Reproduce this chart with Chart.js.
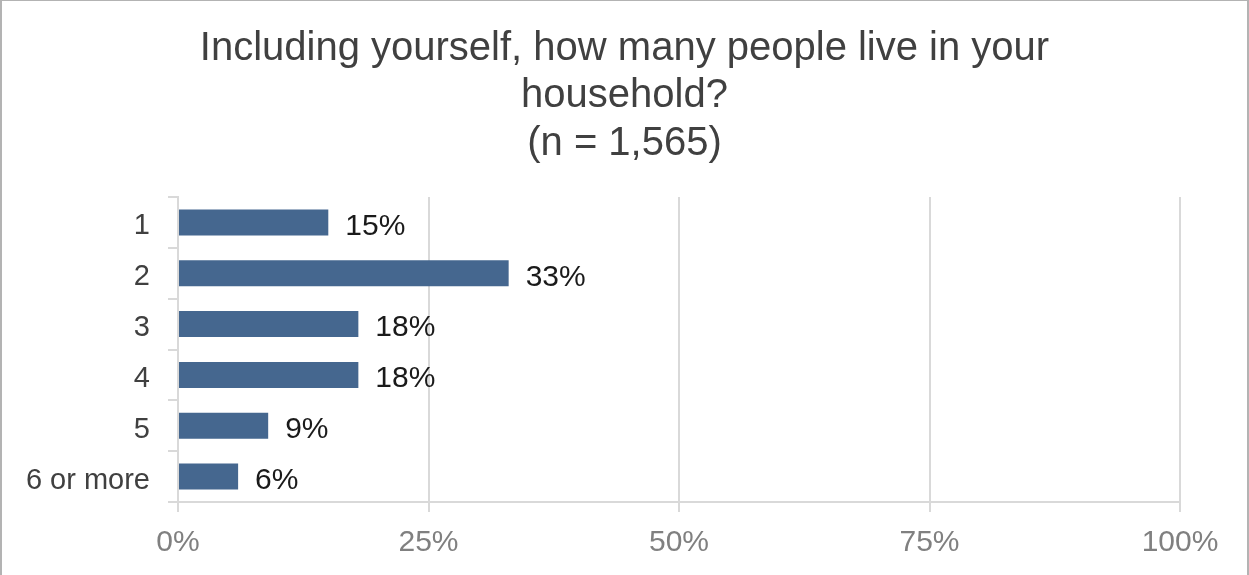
<!DOCTYPE html>
<html>
<head>
<meta charset="utf-8">
<title>Household size</title>
<script src="https://cdn.jsdelivr.net/npm/chart.js@4/dist/chart.umd.min.js"></script>
<style>
    html, body { margin: 0; padding: 0; background: #fff; }
    .chart-box { position: relative; width: 1249px; height: 575px; }
    .chart-box canvas { position: absolute; left: 0; top: 0; }
    .frame {
        position: absolute; left: 0; top: 0; width: 1245px; height: 575px;
        border-top: 1px solid #b3b3b3; border-left: 2px solid #b3b3b3; border-right: 2px solid #b3b3b3;
        box-sizing: content-box; pointer-events: none;
    }
</style>
</head>
<body>
<div class="chart-box">
    <canvas id="householdChart" width="1249" height="575"></canvas>
    <div class="frame"></div>
</div>
<script>
'use strict';

const categories = ['1', '2', '3', '4', '5', '6 or more'];
const shares = [15, 33, 18, 18, 9, 6];
const xTicks = [0, 25, 50, 75, 100];
const titleLines = ['Including yourself, how many people live in your', 'household?', '(n = 1,565)'];

const FONT = "'Liberation Sans', Arial, sans-serif";
const barColor = '#45678f';
const gridColor = '#d9d9d9';

// Three-line heading centred on the whole canvas (the built-in title centres on the padded box)
const heading = {
    id: 'heading',
    afterDraw(chart) {
        const ctx = chart.ctx;
        ctx.save();
        ctx.font = '40px ' + FONT;
        ctx.fillStyle = '#404040';
        ctx.textAlign = 'center';
        ctx.textBaseline = 'alphabetic';
        titleLines.forEach((line, i) => ctx.fillText(line, chart.width / 2, 59.5 + i * 47.8));
        ctx.restore();
    }
};

// Percent labels just past the end of each bar
const barLabels = {
    id: 'barLabels',
    afterDatasetsDraw(chart) {
        const ctx = chart.ctx;
        const meta = chart.getDatasetMeta(0);
        ctx.save();
        ctx.font = '30px ' + FONT;
        ctx.fillStyle = '#1a1a1a';
        ctx.textAlign = 'left';
        ctx.textBaseline = 'middle';
        meta.data.forEach((bar, i) => {
            ctx.fillText(Math.round(shares[i]) + '%', bar.x + 17, bar.y + 4);
        });
        ctx.restore();
    }
};

new Chart(document.getElementById('householdChart'), {
    type: 'bar',
    data: {
        labels: categories,
        datasets: [{
            data: shares,
            backgroundColor: barColor,
            borderWidth: 0,
            categoryPercentage: 1,
            barPercentage: 0.51
        }]
    },
    options: {
        indexAxis: 'y',
        responsive: false,
        animation: false,
        devicePixelRatio: 1,
        layout: { padding: { left: 0, right: 69, top: 197, bottom: 0 } },
        plugins: {
            legend: { display: false },
            tooltip: { enabled: false },
            title: { display: false }
        },
        scales: {
            x: {
                min: 0,
                max: 100,
                afterBuildTicks(scale) { scale.ticks = xTicks.map(v => ({ value: v })); },
                afterFit(scale) { scale.height = 73; },
                ticks: {
                    callback: v => v + '%',
                    color: '#808080',
                    padding: 13,
                    font: { family: FONT, size: 30 }
                },
                grid: { color: gridColor, lineWidth: 2, tickLength: 10, tickColor: gridColor },
                border: { color: gridColor, width: 2 }
            },
            y: {
                afterFit(scale) { scale.width = 178; },
                ticks: {
                    color: '#404040',
                    padding: 18,
                    labelOffset: 4,
                    font: { family: FONT, size: 29 }
                },
                grid: {
                    offset: true,
                    drawOnChartArea: false,
                    tickLength: 10,
                    tickColor: gridColor,
                    lineWidth: 2
                },
                border: { color: gridColor, width: 2 }
            }
        }
    },
    plugins: [barLabels, heading]
});
</script>
</body>
</html>
